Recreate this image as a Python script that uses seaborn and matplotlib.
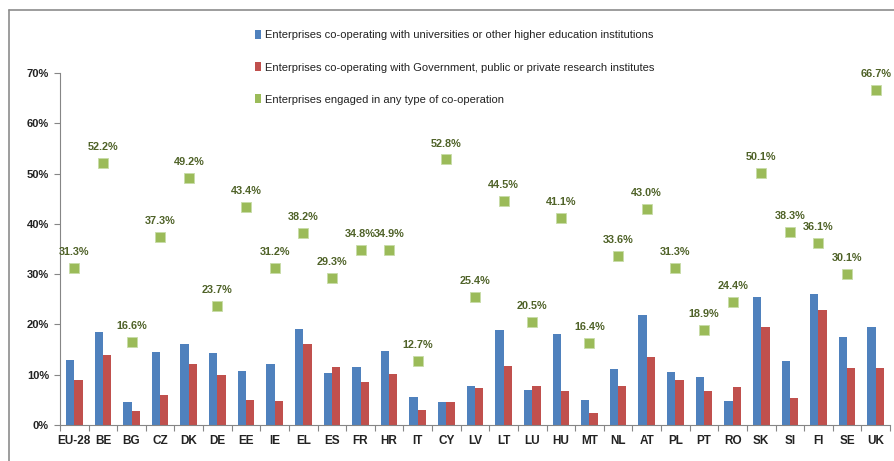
import numpy as np
import pandas as pd
import matplotlib
matplotlib.use("Agg")
import matplotlib.pyplot as plt
from matplotlib.patches import Patch
from matplotlib.lines import Line2D
import seaborn as sns

categories = ["EU-28", "BE", "BG", "CZ", "DK", "DE", "EE", "IE", "EL", "ES", "FR", "HR",
              "IT", "CY", "LV", "LT", "LU", "HU", "MT", "NL", "AT", "PL", "PT", "RO",
              "SK", "SI", "FI", "SE", "UK"]
universities = [13.0, 18.5, 4.5, 14.6, 16.2, 14.3, 10.8, 12.1, 19.0, 10.3, 11.5, 14.8,
                5.6, 4.6, 7.7, 18.9, 7.0, 18.1, 5.0, 11.1, 21.8, 10.5, 9.5, 4.8,
                25.4, 12.7, 26.1, 17.5, 19.5]
government = [8.9, 13.9, 2.8, 5.9, 12.1, 9.9, 5.0, 4.8, 16.1, 11.5, 8.5, 10.1,
              2.9, 4.6, 7.4, 11.7, 7.7, 6.8, 2.4, 7.8, 13.5, 8.9, 6.7, 7.6,
              19.4, 5.3, 22.9, 11.3, 11.3]
any_type = [31.3, 52.2, 16.6, 37.3, 49.2, 23.7, 43.4, 31.2, 38.2, 29.3, 34.8, 34.9,
            12.7, 52.8, 25.4, 44.5, 20.5, 41.1, 16.4, 33.6, 43.0, 31.3, 18.9, 24.4,
            50.1, 38.3, 36.1, 30.1, 66.7]
series_names = ["Enterprises co-operating with universities or other higher education institutions",
                "Enterprises co-operating with Government, public or private research institutes",
                "Enterprises engaged in any type of co-operation"]
yticks = [0, 10, 20, 30, 40, 50, 60, 70]

BLUE, RED, GREEN = "#4F81BD", "#C0504D", "#9BBB59"
LABEL_COL = "#4F6228"
AXIS_COL = "#868686"

sns.set_theme(style="white")
plt.rcParams['font.family'] = ['Liberation Sans Narrow', 'Liberation Sans', 'DejaVu Sans']

fig = plt.figure(figsize=(8.94, 4.61), dpi=100)
ax = fig.add_axes([60 / 894, 1 - 425 / 461, (890 - 60) / 894, (425 - 73) / 461])

df = pd.DataFrame({
    "country": categories * 2,
    "value": universities + government,
    "series": [series_names[0]] * len(categories) + [series_names[1]] * len(categories),
})
sns.barplot(data=df, x="country", y="value", hue="series", order=categories,
            hue_order=series_names[:2], palette=[BLUE, RED], width=0.58,
            saturation=1, edgecolor="none", linewidth=0, ax=ax, legend=False)

pos = np.arange(len(categories))
sns.scatterplot(x=pos, y=any_type, marker="s", s=42, color=GREEN, edgecolor="#C8DCA8",
                linewidth=0.6, ax=ax, legend=False, zorder=5)
for x, v in zip(pos, any_type):
    ax.annotate(f"{v:.1f}%", (x, v), xytext=(0, 11.5), textcoords="offset points",
                ha="center", va="center", fontsize=7.8, fontweight="bold", color=LABEL_COL)

ax.set_xlim(-0.5, len(categories) - 0.5)
ax.set_ylim(0, 70)
ax.set_yticks(yticks)
ax.set_yticklabels([f"{t}%" for t in yticks])
ax.set_xlabel("")
ax.set_ylabel("")
ax.set_xticks(pos)
ax.set_xticklabels(categories)
ax.set_xticks(np.arange(len(categories) + 1) - 0.5, minor=True)

for sp in ["top", "right"]:
    ax.spines[sp].set_visible(False)
for sp in ["left", "bottom"]:
    ax.spines[sp].set_color(AXIS_COL)
    ax.spines[sp].set_linewidth(0.8)

ax.tick_params(axis="y", which="major", left=True, length=4, width=0.8, color=AXIS_COL,
               pad=4, labelsize=8, labelcolor="#222222")
ax.tick_params(axis="x", which="major", bottom=False, length=0, pad=7, labelsize=8.5,
               labelcolor="#222222")
ax.tick_params(axis="x", which="minor", bottom=True, length=4, width=0.8, color=AXIS_COL)
for lab in ax.get_yticklabels() + ax.get_xticklabels():
    lab.set_fontweight("bold")

handles = [Patch(facecolor=c, edgecolor="none") for c in (BLUE, RED, GREEN)]
fig.legend(handles, series_names, loc="upper left", bbox_to_anchor=(255 / 894, 1 - 30 / 461),
           frameon=False, fontsize=8, handlelength=0.55, handleheight=0.9,
           handletextpad=0.35, labelspacing=1.95, borderpad=0, borderaxespad=0,
           labelcolor="#222222")

# outer chart frame
fig.add_artist(Line2D([8.5 / 894, 8.5 / 894], [0, 1 - 10 / 461], transform=fig.transFigure,
                      color="#8C8C8C", lw=1.2))
fig.add_artist(Line2D([8.5 / 894, 1], [1 - 10 / 461, 1 - 10 / 461], transform=fig.transFigure,
                      color="#8C8C8C", lw=1.2))

fig.savefig("out.png", dpi=100)
